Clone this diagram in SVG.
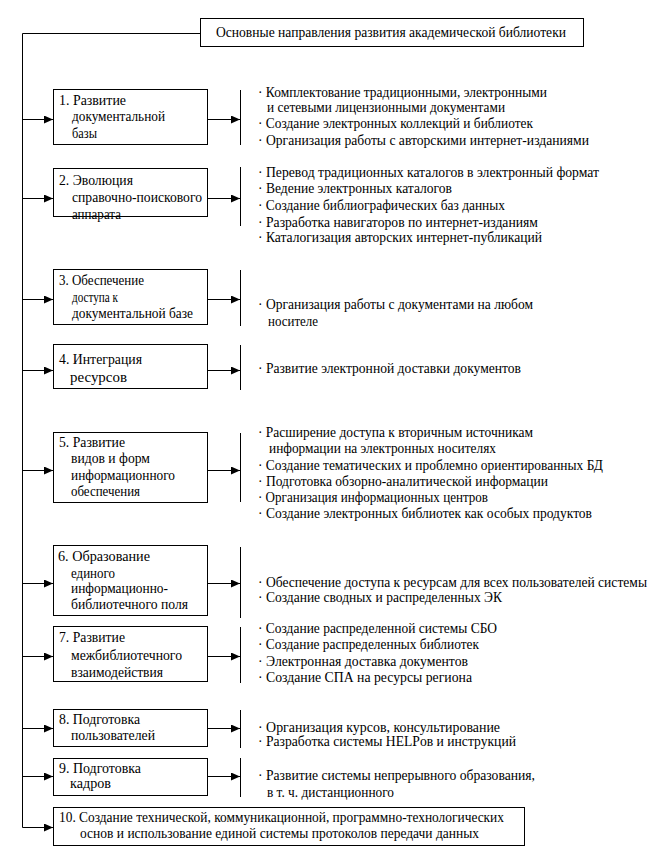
<svg xmlns="http://www.w3.org/2000/svg" width="664" height="860" viewBox="0 0 664 860">
<style>
text{font-family:"Liberation Serif","Times New Roman",serif;font-size:14px;fill:#000}
.box{fill:#fff;stroke:#000;stroke-width:1}
.ln{fill:none;stroke:#000;stroke-width:1}
.ar{fill:none;stroke:#000;stroke-width:1;marker-end:url(#ah)}
</style>
<defs>
<marker id="ah" markerUnits="userSpaceOnUse" markerWidth="9" markerHeight="8" refX="9" refY="4" orient="auto">
<path d="M0,0 L9,4 L0,8 z" fill="#000"/>
</marker>
</defs>
<rect width="664" height="860" fill="#fff"/>
<g id="connectors">
<path class="ln" d="M200.5,33.5 H22.5 V827.5"/>
<path class="ar" d="M22.5,119.5 H53"/>
<path class="ar" d="M22.5,198.5 H53"/>
<path class="ar" d="M22.5,299.5 H53"/>
<path class="ar" d="M22.5,370.5 H53"/>
<path class="ar" d="M22.5,470.5 H53"/>
<path class="ar" d="M22.5,583.5 H53"/>
<path class="ar" d="M22.5,656.5 H53"/>
<path class="ar" d="M22.5,728.5 H53"/>
<path class="ar" d="M22.5,776.5 H53"/>
<path class="ar" d="M22.5,827.5 H53"/>
<path class="ar" d="M207.5,119.5 H240"/>
<path class="ar" d="M207.5,198.5 H240"/>
<path class="ar" d="M207.5,299.5 H240"/>
<path class="ar" d="M207.5,370.5 H240"/>
<path class="ar" d="M207.5,470.5 H240"/>
<path class="ar" d="M207.5,583.5 H240"/>
<path class="ar" d="M207.5,656.5 H240"/>
<path class="ar" d="M207.5,728.5 H240"/>
<path class="ar" d="M207.5,776.5 H240"/>
<path class="ln" d="M240.5,90 V145"/>
<path class="ln" d="M240.5,167 V226"/>
<path class="ln" d="M240.5,270 V326"/>
<path class="ln" d="M240.5,345 V390"/>
<path class="ln" d="M240.5,433 V502"/>
<path class="ln" d="M240.5,547 V618"/>
<path class="ln" d="M240.5,627 V683"/>
<path class="ln" d="M240.5,710 V748"/>
<path class="ln" d="M240.5,758 V797"/>
</g>
<g id="title">
<rect class="box" x="200.5" y="18.5" width="383" height="28"/>
<text x="216" y="37" textLength="350" lengthAdjust="spacingAndGlyphs">Основные направления развития академической библиотеки</text>
</g>
<g id="n1">
<rect class="box" x="53.5" y="89.5" width="154" height="55"/>
<text x="59" y="104.5" textLength="67" lengthAdjust="spacingAndGlyphs">1. Развитие</text>
<text x="72" y="121" textLength="93" lengthAdjust="spacingAndGlyphs">документальной</text>
<text x="72" y="137.5" textLength="25" lengthAdjust="spacingAndGlyphs">базы</text>
</g>
<g id="l1">
<text x="258" y="96.5" textLength="289" lengthAdjust="spacingAndGlyphs">· Комплектование традиционными, электронными</text>
<text x="267" y="112" textLength="238" lengthAdjust="spacingAndGlyphs">и сетевыми лицензионными документами</text>
<text x="258" y="128" textLength="275" lengthAdjust="spacingAndGlyphs">· Создание электронных коллекций и библиотек</text>
<text x="258" y="145" textLength="331" lengthAdjust="spacingAndGlyphs">· Организация работы с авторскими интернет-изданиями</text>
</g>
<g id="n2">
<rect class="box" x="53.5" y="168.5" width="154" height="48"/>
<text x="59" y="184.5" textLength="74" lengthAdjust="spacingAndGlyphs">2. Эволюция</text>
<text x="72" y="202" textLength="130" lengthAdjust="spacingAndGlyphs">справочно-поискового</text>
<text x="72" y="219" textLength="49" lengthAdjust="spacingAndGlyphs">аппарата</text>
</g>
<g id="l2">
<text x="258" y="176.5" textLength="341" lengthAdjust="spacingAndGlyphs">· Перевод традиционных каталогов в электронный формат</text>
<text x="258" y="192.5" textLength="194" lengthAdjust="spacingAndGlyphs">· Ведение электронных каталогов</text>
<text x="258" y="209.5" textLength="247" lengthAdjust="spacingAndGlyphs">· Создание библиографических баз данных</text>
<text x="258" y="226.5" textLength="280" lengthAdjust="spacingAndGlyphs">· Разработка навигаторов по интернет-изданиям</text>
<text x="258" y="241.5" textLength="284" lengthAdjust="spacingAndGlyphs">· Каталогизация авторских интернет-публикаций</text>
</g>
<g id="n3">
<rect class="box" x="53.5" y="269.5" width="154" height="55"/>
<text x="59" y="284.5" textLength="85" lengthAdjust="spacingAndGlyphs">3. Обеспечение</text>
<text x="72" y="302" textLength="46" lengthAdjust="spacingAndGlyphs">доступа к</text>
<text x="72" y="318" textLength="121" lengthAdjust="spacingAndGlyphs">документальной базе</text>
</g>
<g id="l3">
<text x="258" y="308.5" textLength="275" lengthAdjust="spacingAndGlyphs">· Организация работы с  документами на любом</text>
<text x="268" y="326" textLength="50" lengthAdjust="spacingAndGlyphs">носителе</text>
</g>
<g id="n4">
<rect class="box" x="53.5" y="344.5" width="154" height="44"/>
<text x="59" y="364" textLength="83" lengthAdjust="spacingAndGlyphs">4.  Интеграция</text>
<text x="70" y="382" textLength="57" lengthAdjust="spacingAndGlyphs">ресурсов</text>
</g>
<g id="l4">
<text x="258" y="372.5" textLength="263" lengthAdjust="spacingAndGlyphs">· Развитие электронной доставки документов</text>
</g>
<g id="n5">
<rect class="box" x="53.5" y="432.5" width="154" height="70"/>
<text x="59" y="446.5" textLength="66" lengthAdjust="spacingAndGlyphs">5. Развитие</text>
<text x="71" y="462.5" textLength="79" lengthAdjust="spacingAndGlyphs">видов и форм</text>
<text x="71" y="479.5" textLength="104" lengthAdjust="spacingAndGlyphs">информационного</text>
<text x="71" y="495.5" textLength="69" lengthAdjust="spacingAndGlyphs">обеспечения</text>
</g>
<g id="l5">
<text x="258" y="436.5" textLength="275" lengthAdjust="spacingAndGlyphs">· Расширение доступа к вторичным источникам</text>
<text x="269" y="452.5" textLength="227" lengthAdjust="spacingAndGlyphs">информации на электронных носителях</text>
<text x="258" y="469.5" textLength="345" lengthAdjust="spacingAndGlyphs">· Создание тематических и проблемно ориентированных БД</text>
<text x="258" y="485.5" textLength="290" lengthAdjust="spacingAndGlyphs">· Подготовка обзорно-аналитической информации</text>
<text x="258" y="501.5" textLength="230" lengthAdjust="spacingAndGlyphs">· Организация информационных центров</text>
<text x="258" y="518" textLength="334" lengthAdjust="spacingAndGlyphs">· Создание электронных библиотек как особых продуктов</text>
</g>
<g id="n6">
<rect class="box" x="53.5" y="545.5" width="154" height="70"/>
<text x="58" y="560.5" textLength="92" lengthAdjust="spacingAndGlyphs">6. Образование</text>
<text x="71" y="577.5" textLength="44" lengthAdjust="spacingAndGlyphs">единого</text>
<text x="71" y="592.5" textLength="97" lengthAdjust="spacingAndGlyphs">информационно-</text>
<text x="71" y="608.5" textLength="117" lengthAdjust="spacingAndGlyphs">библиотечного поля</text>
</g>
<g id="l6">
<text x="258" y="586.5" textLength="389" lengthAdjust="spacingAndGlyphs">· Обеспечение доступа к ресурсам для всех пользователей системы</text>
<text x="258" y="601.5" textLength="244" lengthAdjust="spacingAndGlyphs">· Создание сводных и распределенных ЭК</text>
</g>
<g id="n7">
<rect class="box" x="53.5" y="626.5" width="154" height="55"/>
<text x="59" y="641.5" textLength="66" lengthAdjust="spacingAndGlyphs">7. Развитие</text>
<text x="71" y="659.5" textLength="111" lengthAdjust="spacingAndGlyphs">межбиблиотечного</text>
<text x="71" y="676.5" textLength="92" lengthAdjust="spacingAndGlyphs">взаимодействия</text>
</g>
<g id="l7">
<text x="258" y="632.5" textLength="239" lengthAdjust="spacingAndGlyphs">· Создание распределенной системы СБО</text>
<text x="258" y="649" textLength="221" lengthAdjust="spacingAndGlyphs">· Создание распределенных библиотек</text>
<text x="258" y="665.5" textLength="210" lengthAdjust="spacingAndGlyphs">· Электронная доставка документов</text>
<text x="258" y="682" textLength="214" lengthAdjust="spacingAndGlyphs">· Создание СПА на ресурсы региона</text>
</g>
<g id="n8">
<rect class="box" x="53.5" y="709.5" width="154" height="37"/>
<text x="59" y="723.5" textLength="81" lengthAdjust="spacingAndGlyphs">8. Подготовка</text>
<text x="71" y="739.5" textLength="84" lengthAdjust="spacingAndGlyphs">пользователей</text>
</g>
<g id="l8">
<text x="258" y="731.5" textLength="242" lengthAdjust="spacingAndGlyphs">· Организация курсов, консультирование</text>
<text x="258" y="746" textLength="258" lengthAdjust="spacingAndGlyphs">· Разработка системы HELPов и инструкций</text>
</g>
<g id="n9">
<rect class="box" x="53.5" y="758.5" width="154" height="37"/>
<text x="59" y="772.5" textLength="82" lengthAdjust="spacingAndGlyphs">9. Подготовка</text>
<text x="70" y="787.5" textLength="41" lengthAdjust="spacingAndGlyphs">кадров</text>
</g>
<g id="l9">
<text x="258" y="779.5" textLength="277" lengthAdjust="spacingAndGlyphs">· Развитие системы непрерывного образования,</text>
<text x="267" y="796.5" textLength="127" lengthAdjust="spacingAndGlyphs">в т. ч. дистанционного</text>
</g>
<g id="n10">
<rect class="box" x="53.5" y="807.5" width="471" height="38"/>
<text x="59" y="821.5" textLength="445" lengthAdjust="spacingAndGlyphs">10. Создание технической, коммуникационной, программно-технологических</text>
<text x="80" y="837.5" textLength="399" lengthAdjust="spacingAndGlyphs">основ и использование единой системы протоколов передачи данных</text>
</g>
</svg>
